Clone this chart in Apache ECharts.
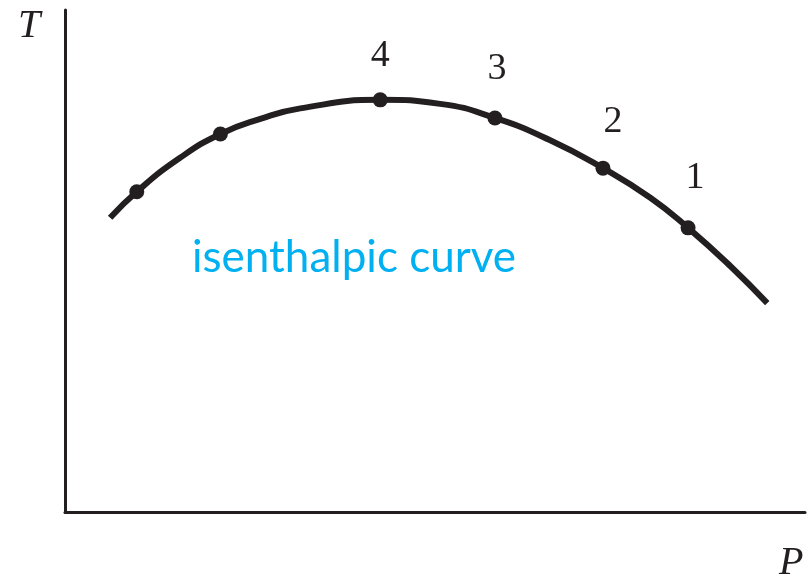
<!DOCTYPE html>
<html>
<head>
<meta charset="UTF-8" />
<title>isenthalpic curve</title>
<script src="https://cdn.jsdelivr.net/npm/echarts@6/dist/echarts.min.js"></script>
<style>
  html, body { margin: 0; padding: 0; background: #fff; }
  #main { width: 811px; height: 585px; }
</style>
</head>
<body>
<div id="main"></div>
<script>
// curve (P, T in arbitrary units 0..100)
var curveP = [6.1, 9.7, 15.5, 21.0, 26.4, 31.8, 42.6, 50.7, 58.1, 65.5, 72.7, 79.1, 84.2, 89.9, 94.9];
var curveT = [58.6, 63.8, 70.5, 75.3, 78.3, 80.4, 82.1, 81.3, 78.5, 74.1, 68.5, 62.6, 56.6, 49.0, 41.6];

// measured points on the curve and their numbers
var pointP = [9.7, 21.0, 42.6, 58.1, 72.7, 84.2];
var pointT = [63.8, 75.3, 82.1, 78.5, 68.5, 56.6];
var pointNames = ['', '', '4', '3', '2', '1'];
var labelShift = [[0, 0], [0, 0], [0, -12], [2, -17], [10, -15], [7, -18]];

var myChart = echarts.init(document.getElementById('main'));

var lineData = [];
for (var i = 0; i < curveP.length; i++) {
    lineData.push([curveP[i], curveT[i]]);
}
var dots = [];
for (var j = 0; j < pointP.length; j++) {
    dots.push({
        value: [pointP[j], pointT[j]],
        label: {
            show: pointNames[j] !== '',
            formatter: pointNames[j],
            offset: labelShift[j]
        }
    });
}

var axisCommon = {
    type: 'value',
    min: 0,
    max: 100,
    axisLine: { show: true, lineStyle: { color: '#231f20', width: 3 } },
    axisTick: { show: false },
    axisLabel: { show: false },
    splitLine: { show: false }
};

myChart.setOption({
    animation: false,
    grid: { left: 65, top: 10, right: 6, bottom: 73 },
    xAxis: axisCommon,
    yAxis: axisCommon,
    series: [{
        name: 'curve',
        type: 'line',
        smooth: 0.5,
        showSymbol: false,
        lineStyle: { color: '#231f20', width: 6 },
        data: lineData
    }, {
        name: 'points',
        type: 'scatter',
        symbol: 'circle',
        symbolSize: 15,
        itemStyle: { color: '#231f20', opacity: 1 },
        label: {
            position: 'top',
            color: '#231f20',
            fontFamily: 'Liberation Serif',
            fontSize: 38
        },
        data: dots
    }],
    graphic: [{
        type: 'text',
        left: 18,
        top: 6,
        style: {
            text: 'T',
            font: 'italic 40px "Liberation Serif"',
            fill: '#231f20'
        }
    }, {
        type: 'text',
        left: 192,
        top: 236,
        style: {
            text: 'isenthalpic curve',
            font: '44px Lato',
            fill: '#00b0f0'
        }
    }, {
        type: 'text',
        left: 779,
        top: 543,
        style: {
            text: 'P',
            font: 'italic 40px "Liberation Serif"',
            fill: '#231f20'
        }
    }]
});
</script>
</body>
</html>
